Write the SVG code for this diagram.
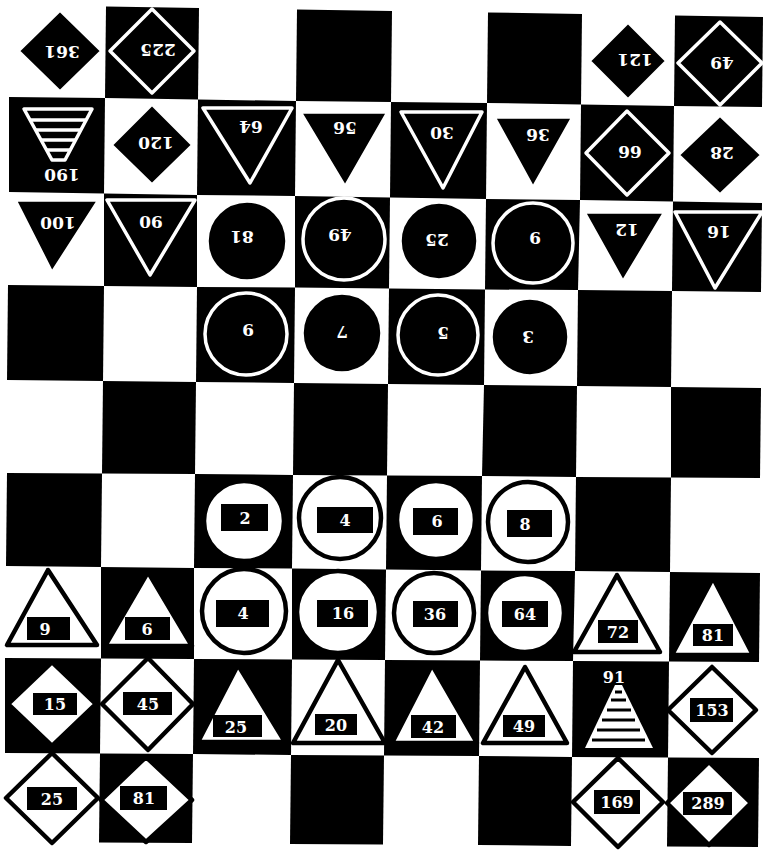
<svg xmlns="http://www.w3.org/2000/svg" width="764" height="850" viewBox="0 0 764 850">
<style>
.cell{fill:#000}
.bk{fill:#000;stroke:#fff;stroke-width:3.5;stroke-linejoin:round}
.wt{fill:#fff;stroke:#000;stroke-width:4.5;stroke-linejoin:round}
.lb{fill:#000}
.wl{stroke:#fff;stroke-width:3.5;fill:none}
.bl{stroke:#000;stroke-width:3;fill:none}
text{font-family:"DejaVu Serif","Liberation Serif",serif;font-weight:bold;fill:#fff;text-anchor:middle;dominant-baseline:central}
.tt{font-size:17px}
.bt{font-size:16px}
</style>
<rect width="764" height="850" fill="#fff"/>
<g id="board">
<polygon class="cell" points="106,6.5 199,8 198,99.5 105,98"/>
<polygon class="cell" points="297,9.5 392,11 391,102 296,101"/>
<polygon class="cell" points="488,12.5 582,14 581,104.5 487,103"/>
<polygon class="cell" points="675,15.5 763,17 762,107 674,106"/>
<polygon class="cell" points="9,97 105,98 104,193.5 9,192"/>
<polygon class="cell" points="198,99.5 296,101 295,196 197,195"/>
<polygon class="cell" points="391,102 487,103 486,199 390,197.5"/>
<polygon class="cell" points="581,104.5 674,106 673,201.5 580,200"/>
<polygon class="cell" points="104,193.5 197,195 197,287 104,286"/>
<polygon class="cell" points="295,196 390,197.5 389,288.5 295,287.5"/>
<polygon class="cell" points="486,199 580,200 578,290 485,289.5"/>
<polygon class="cell" points="673,201.5 762,203 761,292 672,291"/>
<polygon class="cell" points="8,285 104,286 103,381 7,380"/>
<polygon class="cell" points="197,287 295,287.5 294,383 196,382"/>
<polygon class="cell" points="389,288.5 485,289.5 484,385 388,384"/>
<polygon class="cell" points="578,290 672,291 671,387 577,386"/>
<polygon class="cell" points="103,381 196,382 195,474 102,473.5"/>
<polygon class="cell" points="294,383 388,384 387,475.5 293,475"/>
<polygon class="cell" points="484,385 577,386 576,477 482,476"/>
<polygon class="cell" points="671,387 761,388 760,478 671,477.5"/>
<polygon class="cell" points="7,473 102,473.5 101,567 6,566"/>
<polygon class="cell" points="195,474 293,475 292,568.5 194,568"/>
<polygon class="cell" points="387,475.5 482,476 481,570.5 386,569.5"/>
<polygon class="cell" points="576,477 671,477.5 670,572 575,571"/>
<polygon class="cell" points="101,567 194,568 194,659 101,658.5"/>
<polygon class="cell" points="292,568.5 386,569.5 385,660 292,659.5"/>
<polygon class="cell" points="481,570.5 575,571 573,661 480,660.5"/>
<polygon class="cell" points="670,572 760,573 759,662 669,661.5"/>
<polygon class="cell" points="5,658 101,658.5 100,753.5 5,753"/>
<polygon class="cell" points="194,659 292,659.5 291,755 193,754"/>
<polygon class="cell" points="385,660 480,660.5 479,756 384,755.5"/>
<polygon class="cell" points="573,661 669,661.5 668,757.5 572,757"/>
<polygon class="cell" points="100,753.5 193,754 192,843 99,842.5"/>
<polygon class="cell" points="291,755 384,755.5 383,844.5 290,844"/>
<polygon class="cell" points="479,756 572,757 571,846 478,845"/>
<polygon class="cell" points="668,757.5 759,758 758,847 667,846.5"/>
</g>
<g id="p361"><polygon class="bk" points="60,10 102,51 60,92 18,51"/><text class="tt" transform="translate(62,52) rotate(180)">361</text></g>
<g id="p225"><polygon class="bk" points="152,9 194,51 152,93 110,51"/><text class="tt" transform="translate(158,50) rotate(180)">225</text></g>
<g id="p121"><polygon class="bk" points="628,22 667,61 628,100 589,61"/><text class="tt" transform="translate(635,60) rotate(180)">121</text></g>
<g id="p49a"><polygon class="bk" points="720,22 762,63 720,105 678,63"/><text class="tt" transform="translate(722,63) rotate(180)">49</text></g>
<g id="p190"><polygon class="bk" points="24,109 92,109 65,160 52,160"/><path class="wl" d="M30,120H86M35.5,130H81M41,140H75.5M46.5,150H70"/><text class="tt" transform="translate(62,175) rotate(180)">190</text></g>
<g id="p120"><polygon class="bk" points="152,104 193,145 152,185 111,145"/><text class="tt" transform="translate(156,143) rotate(180)">120</text></g>
<g id="p64a"><polygon class="bk" points="203,108 292,108 250,183"/><text class="tt" transform="translate(251,127) rotate(180)">64</text></g>
<g id="p56"><polygon class="bk" points="300,112 388,112 345,187"/><text class="tt" transform="translate(345,128) rotate(180)">56</text></g>
<g id="p30"><polygon class="bk" points="401,112 482,112 443,188"/><text class="tt" transform="translate(442,133) rotate(180)">30</text></g>
<g id="p36a"><polygon class="bk" points="494,117 573,117 533,188"/><text class="tt" transform="translate(538,135) rotate(180)">36</text></g>
<g id="p66"><polygon class="bk" points="627,111 669,153 627,195 586,153"/><text class="tt" transform="translate(630,152) rotate(180)">66</text></g>
<g id="p28"><polygon class="bk" points="720,115 762,155 720,195 678,155"/><text class="tt" transform="translate(722,153) rotate(180)">28</text></g>
<g id="p100"><polygon class="bk" points="15,200 99,200 52,273"/><text class="tt" transform="translate(58,223) rotate(180)">100</text></g>
<g id="p90"><polygon class="bk" points="107,200 195,200 150,275"/><text class="tt" transform="translate(151,222) rotate(180)">90</text></g>
<g id="p81a"><circle class="bk" cx="247" cy="241" r="40"/><text class="tt" transform="translate(242,237) rotate(180)">81</text></g>
<g id="p49b"><circle class="bk" cx="344" cy="239" r="41"/><text class="tt" transform="translate(340,235) rotate(180)">49</text></g>
<g id="p25a"><circle class="bk" cx="439" cy="241" r="39"/><text class="tt" transform="translate(437,240) rotate(180)">25</text></g>
<g id="p9a"><circle class="bk" cx="533" cy="243" r="40"/><text class="tt" transform="translate(535,238) rotate(180)">9</text></g>
<g id="p12"><polygon class="bk" points="584,212 665,212 623,282"/><text class="tt" transform="translate(627,230) rotate(180)">12</text></g>
<g id="p16a"><polygon class="bk" points="675,212 762,212 715,288"/><text class="tt" transform="translate(719,232) rotate(180)">16</text></g>
<g id="p9b"><circle class="bk" cx="246" cy="334" r="41"/><text class="tt" transform="translate(248,330) rotate(180)">9</text></g>
<g id="p7"><circle class="bk" cx="342" cy="333" r="40"/><text class="tt" transform="translate(342,332) rotate(180)">7</text></g>
<g id="p5"><circle class="bk" cx="438" cy="335" r="40"/><text class="tt" transform="translate(443,333) rotate(180)">5</text></g>
<g id="p3"><circle class="bk" cx="530" cy="337" r="39"/><text class="tt" transform="translate(528,337) rotate(180)">3</text></g>
<g id="p2"><circle class="wt" cx="244" cy="521" r="40"/><rect class="lb" x="221" y="504" width="47" height="27"/><text class="bt" x="245" y="518">2</text></g>
<g id="p4a"><circle class="wt" cx="340" cy="518" r="41"/><rect class="lb" x="317" y="507" width="56" height="26"/><text class="bt" x="345" y="520">4</text></g>
<g id="p6a"><circle class="wt" cx="436" cy="520" r="39"/><rect class="lb" x="413" y="508" width="45" height="27"/><text class="bt" x="437" y="521">6</text></g>
<g id="p8"><circle class="wt" cx="528" cy="522" r="40"/><rect class="lb" x="507" y="510" width="45" height="27"/><text class="bt" x="525" y="524">8</text></g>
<g id="p9c"><polygon class="wt" points="48,570 7,645 97,645"/><rect class="lb" x="27" y="617" width="43" height="23"/><text class="bt" x="45" y="629">9</text></g>
<g id="p6b"><polygon class="wt" points="148,572 105,646 192,646"/><rect class="lb" x="125" y="617" width="45" height="23"/><text class="bt" x="147" y="629">6</text></g>
<g id="p4b"><circle class="wt" cx="244" cy="611" r="42"/><rect class="lb" x="216" y="600" width="53" height="27"/><text class="bt" x="243" y="613">4</text></g>
<g id="p16b"><circle class="wt" cx="338" cy="612" r="41"/><rect class="lb" x="317" y="600" width="51" height="27"/><text class="bt" x="343" y="613">16</text></g>
<g id="p36b"><circle class="wt" cx="434" cy="613" r="40"/><rect class="lb" x="413" y="601" width="45" height="26"/><text class="bt" x="435" y="614">36</text></g>
<g id="p64b"><circle class="wt" cx="525" cy="613" r="39"/><rect class="lb" x="502" y="601" width="46" height="26"/><text class="bt" x="525" y="614">64</text></g>
<g id="p72"><polygon class="wt" points="617,575 574,652 660,652"/><rect class="lb" x="598" y="620" width="40" height="23"/><text class="bt" x="618" y="632">72</text></g>
<g id="p81b"><polygon class="wt" points="713,578 672,655 753,655"/><rect class="lb" x="693" y="624" width="40" height="22"/><text class="bt" x="713" y="635">81</text></g>
<g id="p15"><polygon class="wt" points="52,662 96,704 52,746 8,704"/><rect class="lb" x="33" y="693" width="44" height="22"/><text class="bt" x="55" y="704">15</text></g>
<g id="p45"><polygon class="wt" points="148,658 193,704 148,750 102,704"/><rect class="lb" x="123" y="692" width="49" height="23"/><text class="bt" x="148" y="704">45</text></g>
<g id="p25b"><polygon class="wt" points="238,665 198,742 285,742"/><rect class="lb" x="213" y="715" width="49" height="22"/><text class="bt" x="236" y="727">25</text></g>
<g id="p20"><polygon class="wt" points="338,660 293,743 385,743"/><rect class="lb" x="315" y="714" width="42" height="21"/><text class="bt" x="336" y="725">20</text></g>
<g id="p42"><polygon class="wt" points="432,665 392,743 477,743"/><rect class="lb" x="411" y="715" width="45" height="23"/><text class="bt" x="433" y="727">42</text></g>
<g id="p49c"><polygon class="wt" points="525,667 483,743 567,743"/><rect class="lb" x="503" y="715" width="42" height="22"/><text class="bt" x="524" y="726">49</text></g>
<g id="p91"><polygon fill="#fff" points="615,685 622,685 653,748 585,748"/><path class="bl" d="M615,692H622M611,700H626M607,710H631M602,720H635M597,730H640M592,740H645"/><text class="bt" x="614" y="677">91</text></g>
<g id="p153"><polygon class="wt" points="712,667 756,710 712,753 668,710"/><rect class="lb" x="690" y="698" width="43" height="24"/><text class="bt" x="712" y="710">153</text></g>
<g id="p25c"><polygon class="wt" points="52,753 98,798 52,843 6,798"/><rect class="lb" x="27" y="787" width="50" height="23"/><text class="bt" x="52" y="799">25</text></g>
<g id="p81c"><polygon class="wt" points="146,757 192,800 146,842 101,800"/><rect class="lb" x="120" y="786" width="47" height="24"/><text class="bt" x="144" y="798">81</text></g>
<g id="p169"><polygon class="wt" points="618,758 663,802 618,847 573,802"/><rect class="lb" x="594" y="790" width="46" height="24"/><text class="bt" x="617" y="802">169</text></g>
<g id="p289"><polygon class="wt" points="709,762 751,803 709,845 667,803"/><rect class="lb" x="683" y="792" width="49" height="23"/><text class="bt" x="708" y="803">289</text></g>
<g id="connectors"></g>
</svg>
